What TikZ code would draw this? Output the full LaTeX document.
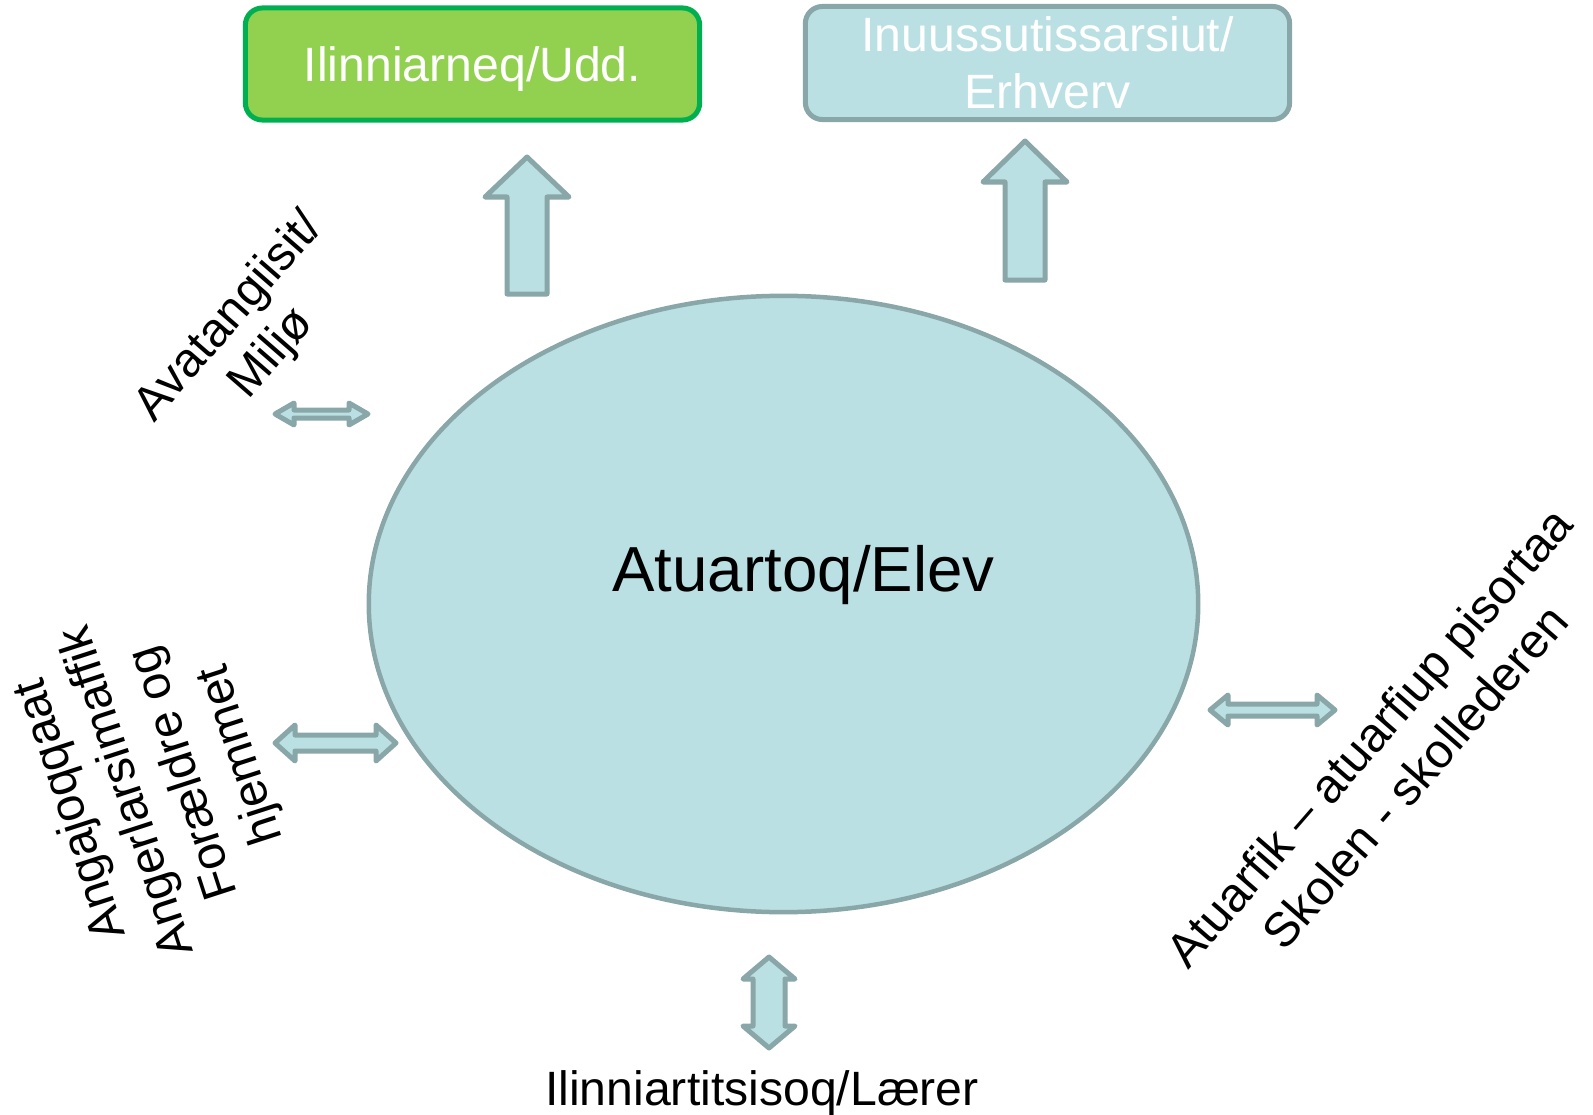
\documentclass[tikz,border=0pt]{standalone}
\usepackage{fontspec}
\setmainfont{Liberation Sans}
\usetikzlibrary{shapes.geometric}
\definecolor{aqua}{RGB}{186,224,227}
\definecolor{aquaedge}{RGB}{137,166,168}
\definecolor{leaf}{RGB}{146,208,80}
\definecolor{leafedge}{RGB}{0,176,80}

\begin{document}
\begin{tikzpicture}[x=0.01cm, y=-0.01cm,
   every node/.style = {inner sep=0pt, font=\fontsize{13.7}{16.5}\selectfont},
          box/.style = {rectangle, rounded corners=0.17cm, line width=0.05cm, align=center},
   blockarrow/.style = {fill=aqua, draw=aquaedge, line width=0.05cm, line join=round}
                    ]
\useasboundingbox (0,0) rectangle (1593,1115);
% the two goals at the top
\node (udd) [box, fill=leaf, draw=leafedge, text=white, text depth=0pt,
             minimum width=4.54cm, minimum height=1.12cm] at (472.5,64) {Ilinniarneq/Udd.};
\node (erhverv) [box, fill=aqua, draw=aquaedge, text=white,
             font=\fontsize{13.7}{16.2}\selectfont,
             minimum width=4.84cm, minimum height=1.13cm] at (1047.5,63) {Inuussutissarsiut/\\Erhverv};
% the pupil
\node (elev) [ellipse, fill=aqua, draw=aquaedge, line width=0.045cm,
             minimum width=8.29cm, minimum height=6.16cm] at (783.5,604) {};
\node (elevtxt) [anchor=base, font=\fontsize{18.1}{21}\selectfont] at (803.5,591) {Atuartoq/Elev};
% block arrows
\draw[blockarrow] (507,294) -- (507,197) -- (485,197) -- (527,157) -- (569,197) -- (547,197) -- (547,294) -- cycle;
\draw[blockarrow] (1005,280) -- (1005,182) -- (983,182) -- (1025,141) -- (1067,182) -- (1045,182) -- (1045,280) -- cycle;
\draw[blockarrow] (275,414) -- (294,403) -- (294,410) -- (349,410) -- (349,403) -- (368,414)
                  -- (349,425) -- (349,418) -- (294,418) -- (294,425) -- cycle;
\draw[blockarrow] (275,743) -- (295,725) -- (295,735) -- (376,735) -- (376,725) -- (396,743)
                  -- (376,761) -- (376,751) -- (295,751) -- (295,761) -- cycle;
\draw[blockarrow] (1210,710) -- (1228,695) -- (1228,704) -- (1317,704) -- (1317,695) -- (1335,710)
                  -- (1317,725) -- (1317,716) -- (1228,716) -- (1228,725) -- cycle;
\draw[blockarrow] (769,957) -- (795,979) -- (785,979) -- (785,1026) -- (795,1026) -- (769,1048)
                  -- (743,1026) -- (753,1026) -- (753,979) -- (743,979) -- cycle;
% the people round the pupil
\node (miljo) [rotate=49, align=center, font=\fontsize{13.7}{15.9}\selectfont] at (251,336) {Avatangiisit/\\Miljø};
\node (hjem) [rotate=108, align=center, font=\fontsize{13.7}{16.9}\selectfont] at (157,782)
      {Angajoqqaat\\Angerlarsimaffik\\Forældre og\\hjemmet};
\node (skole) [rotate=49, align=center, font=\fontsize{13.7}{17.2}\selectfont] at (1392,757)
      {Atuarfik – atuarfiup pisortaa\\Skolen - skollederen};
\node (laerer) [anchor=base] at (762,1105) {Ilinniartitsisoq/Lærer};
\end{tikzpicture}
\end{document}
